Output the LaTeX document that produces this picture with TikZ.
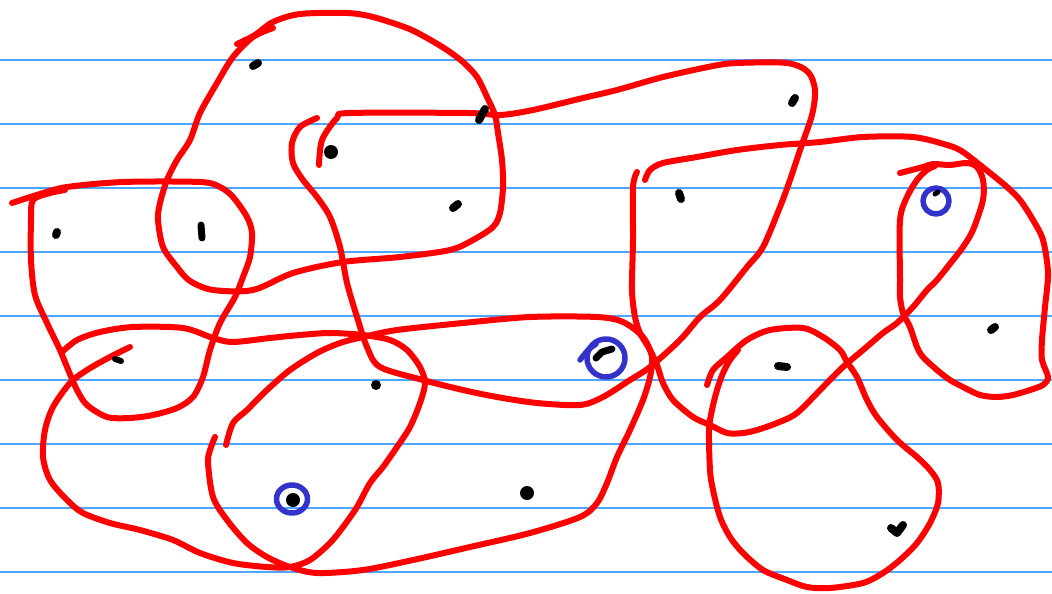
\documentclass[tikz,border=0pt]{standalone}
\begin{document}
\begin{tikzpicture}[x=1pt,y=-1pt,
  rule/.style={draw={rgb,255:red,77;green,166;blue,255},line width=1.6pt},
  redline/.style={draw={rgb,255:red,255;green,0;blue,0},line width=6pt,line cap=round,line join=round},
  blueline/.style={draw={rgb,255:red,51;green,51;blue,204},line width=5.5pt,line cap=round,line join=round},
  dotline/.style={draw=black,line width=8pt,line cap=round,line join=round}]
\fill[white] (0,0) rectangle (1052,594);
\useasboundingbox (0,0) rectangle (1052,594);
% ruled lines
\foreach \yy in {60,124,188,252,316,380,444,508,572}
  \draw[rule] (0,\yy) -- (1052,\yy);
% stroke A
\draw[redline] plot[smooth,tension=0.5] coordinates {(237,44) (255,35) (273,22) (300,14) (347,13) (373,17) (407,28) (427,38) (447,50) (463,62) (477,77) (487,97) (495,115) (498,133) (502,160) (503,187) (500,213) (493,227) (473,240) (450,250) (400,257) (343,262) (293,273) (253,290) (213,290) (190,281) (177,267) (163,247) (158,220) (160,203) (167,180) (177,160) (190,140) (200,113) (217,83) (233,57) (253,37) (273,28)};
% stroke B
\draw[redline] plot[smooth,tension=0.5] coordinates {(12,203) (40,194) (67,187) (123,182) (200,182) (220,187) (233,197) (247,217) (252,233) (250,257) (243,277) (235,297) (220,323) (210,350) (203,377) (193,397) (177,408) (153,415) (130,418) (107,417) (87,405) (77,390) (67,367) (60,350) (47,323) (35,295) (31,260) (31,220) (33,200) (50,193) (65,190)};
% stroke C
\draw[redline] plot[smooth,tension=0.5] coordinates {(319,165) (322,140) (337,118) (350,113) (467,113) (500,115) (533,110) (583,98) (617,90) (663,77) (713,66) (737,63) (787,63) (808,72) (815,90) (812,115) (800,150) (790,180) (780,207) (763,247) (747,267) (720,300) (700,317) (680,340) (650,367) (630,380) (603,397) (580,405) (537,403) (497,397) (463,390) (423,380) (380,367) (367,347) (357,317) (347,283) (340,247) (330,217) (317,197) (303,180) (293,163) (292,143) (300,127) (317,118)};
% stroke D
\draw[redline] plot[smooth,tension=0.5] coordinates {(226,445) (233,423) (247,410) (267,390) (290,370) (317,353) (340,343) (363,337) (397,330) (463,323) (530,317) (597,317) (623,322) (643,337) (652,357) (650,377) (643,400) (630,430) (617,457) (607,483) (597,503) (580,517) (530,533) (470,547) (413,560) (363,570) (317,573) (290,567) (267,557) (247,543) (227,520) (213,497) (208,463) (210,450) (215,437)};
% stroke E
\draw[redline] plot[smooth,tension=0.5] coordinates {(62,352) (77,340) (100,332) (133,327) (183,328) (213,338) (233,342) (270,338) (300,335) (330,333) (363,335) (390,340) (407,350) (420,367) (425,383) (420,403) (410,427) (397,447) (383,467) (370,483) (357,507) (343,527) (330,543) (310,560) (290,567) (267,567) (233,563) (200,553) (173,540) (140,530) (110,523) (83,513) (67,500) (50,480) (43,457) (45,430) (53,407) (70,383) (87,370) (110,357) (130,347)};
% stroke F
\draw[redline] plot[smooth,tension=0.5] coordinates {(637,172) (633,187) (633,240) (632,290) (635,317) (640,333) (650,350) (657,365) (663,383) (673,400) (693,417) (710,425) (727,433) (743,433) (757,430) (777,423) (797,413) (823,387) (843,367) (863,350) (883,333) (897,323) (913,307) (927,290) (937,280) (953,260) (963,247) (973,230) (983,200) (983,180) (977,167) (967,163) (950,165) (933,164) (923,167) (900,173)};
% stroke G
\draw[redline] plot[smooth,tension=0.5] coordinates {(645,180) (650,170) (663,163) (697,157) (737,150) (780,145) (820,142) (863,137) (913,137) (947,145) (963,152) (990,173) (1007,187) (1020,200) (1033,220) (1043,240) (1048,273) (1045,307) (1042,340) (1042,360) (1048,377) (1043,385) (1030,390) (1013,395) (997,397) (980,395) (963,387) (950,380) (937,370) (923,357) (917,347) (910,327) (903,313) (900,297) (900,280) (900,220) (907,197) (917,180) (927,170) (935,166)};
% stroke H
\draw[redline] plot[smooth,tension=0.5] coordinates {(707,385) (713,370) (727,357) (747,340) (770,330) (803,328) (823,337) (840,350) (847,362) (857,377) (867,400) (877,417) (897,440) (917,457) (930,470) (938,483) (938,503) (930,523) (917,543) (900,560) (883,573) (863,583) (830,588) (807,587) (787,580) (763,570) (743,553) (730,537) (720,517) (713,490) (710,470) (709,430) (712,410) (717,390) (723,373) (730,360) (738,350)};
% blue circles
\draw[blueline] (292,499) ellipse [x radius=15.5,y radius=14];
\draw[blueline] (606,358) circle [radius=19];
\draw[blueline] plot[smooth] coordinates {(580,360) (588,350) (596,344)};
\draw[blueline] (936,201) circle [radius=13];
% dots
\draw[dotline] (253,66) -- (258,63);
\fill (331,152) circle [radius=7];
\draw[dotline] (479,120) -- (485,109);
\draw[dotline] (453,208) -- (458,204);
\draw[dotline] (56,235) -- (57,232);
\draw[dotline,line width=7pt] (201,225) -- (202,238);
\draw[dotline,line width=6pt] (115,359) -- (121,361);
\fill (376,385) circle [radius=5];
\fill (527,493) circle [radius=7];
\fill (293,500) circle [radius=7];
\draw[dotline,line width=7pt] (596,358) -- (602,352) -- (612,349);
\draw[dotline] (792,103) -- (795,98);
\draw[dotline] (679,193) -- (681,199);
\draw[dotline,line width=5pt] (935,194) -- (938,192);
\draw[dotline] (991,330) -- (995,327);
\draw[dotline] (778,366) -- (787,367);
\draw[dotline] (891,528) -- (897,533) -- (903,525);
\end{tikzpicture}
\end{document}
